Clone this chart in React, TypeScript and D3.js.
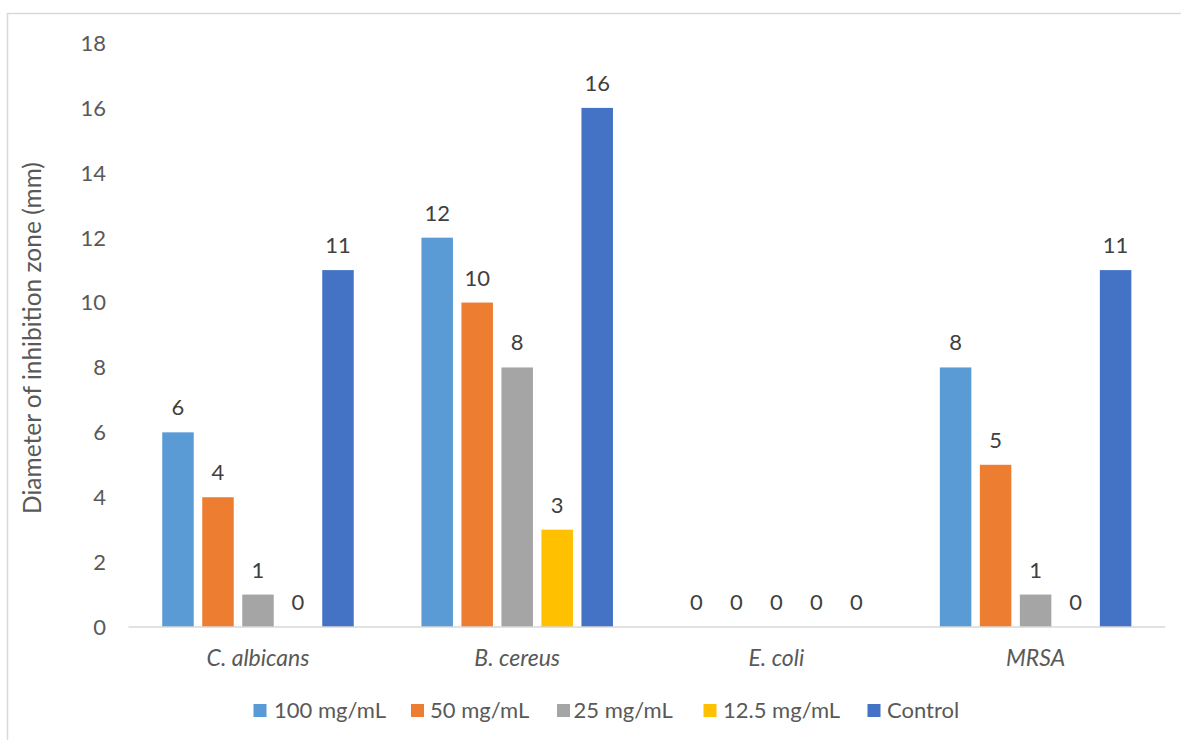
import React from "react";
import * as d3 from "d3";

const categories = ["C. albicans", "B. cereus", "E. coli", "MRSA"];
const seriesNames = ["100 mg/mL", "50 mg/mL", "25 mg/mL", "12.5 mg/mL", "Control"];
const seriesColors = ["#5B9BD5", "#ED7D31", "#A5A5A5", "#FFC000", "#4472C4"];
const conc100 = [6, 12, 0, 8];
const conc50 = [4, 10, 0, 5];
const conc25 = [1, 8, 0, 1];
const conc12_5 = [0, 3, 0, 0];
const control = [11, 16, 0, 11];
const yTicks = [0, 2, 4, 6, 8, 10, 12, 14, 16, 18];
const yTitle = "Diameter of inhibition zone (mm)";

const seriesValues = [conc100, conc50, conc25, conc12_5, control];

const W = 1181;
const H = 740;
const FONT = "Lato, 'Open Sans', sans-serif";

export default function App() {
  const plotLeft = 128.4;
  const plotRight = 1165.2;
  const plotTop = 43;
  const plotBottom = 627;

  const x = d3.scaleBand<string>().domain(categories).range([plotLeft, plotRight]).padding(0);
  const xInner = d3
    .scaleBand<string>()
    .domain(seriesNames)
    .range([0, x.bandwidth()])
    .paddingInner(0.2125)
    .paddingOuter(0.846);
  const y = d3.scaleLinear().domain([0, 18]).range([plotBottom, plotTop]);

  // legend entry anchors: swatch left edge and label left edge
  const legendSwatchX = [253.5, 411, 557, 703.5, 867.5];
  const legendTextX = [274, 430, 573.5, 723, 887];

  return (
    <svg
      width={W}
      height={H}
      style={{ position: "absolute", left: 0, top: 0, background: "#fff" }}
      fontFamily={FONT}
    >
      <rect x={0} y={0} width={W} height={H} fill="#fff" />
      <rect x={7.5} y={13.5} width={W + 50} height={H + 50} fill="none" stroke="#D9D9D9" strokeWidth={1.5} />

      {/* y tick labels */}
      {yTicks.map((t) => (
        <text
          key={t}
          x={106}
          y={y(t)}
          dy="0.36em"
          textAnchor="end"
          fontSize={22}
          fill="#595959"
        >
          {t}
        </text>
      ))}

      {/* y axis title */}
      <text
        transform={`translate(41, ${(plotTop + plotBottom) / 2 + 3}) rotate(-90)`}
        textAnchor="middle"
        fontSize={24.5}
        fill="#595959"
      >
        {yTitle}
      </text>

      {/* bars */}
      {categories.map((c, ci) => (
        <g key={c} transform={`translate(${x(c)},0)`}>
          {seriesNames.map((s, si) => {
            const v = seriesValues[si][ci];
            const bx = xInner(s)!;
            return (
              <g key={s}>
                {v > 0 && (
                  <rect
                    x={bx}
                    y={y(v)}
                    width={xInner.bandwidth()}
                    height={y(0) - y(v)}
                    fill={seriesColors[si]}
                  />
                )}
                <text
                  x={bx + xInner.bandwidth() / 2}
                  y={y(v) - 17}
                  textAnchor="middle"
                  fontSize={22}
                  fill="#404040"
                >
                  {v}
                </text>
              </g>
            );
          })}
        </g>
      ))}

      {/* baseline */}
      <line x1={plotLeft} x2={plotRight} y1={plotBottom} y2={plotBottom} stroke="#D9D9D9" strokeWidth={1.5} />

      {/* category labels */}
      {categories.map((c) => (
        <text
          key={c}
          x={x(c)! + x.bandwidth() / 2}
          y={658}
          dy="0.36em"
          textAnchor="middle"
          fontSize={23}
          fontStyle="italic"
          fill="#595959"
        >
          {c}
        </text>
      ))}

      {/* legend */}
      {seriesNames.map((s, i) => (
        <g key={s}>
          <rect x={legendSwatchX[i]} y={704} width={13} height={13} fill={seriesColors[i]} />
          <text x={legendTextX[i]} y={710.5} dy="0.36em" fontSize={22} fill="#595959">
            {s}
          </text>
        </g>
      ))}
    </svg>
  );
}
